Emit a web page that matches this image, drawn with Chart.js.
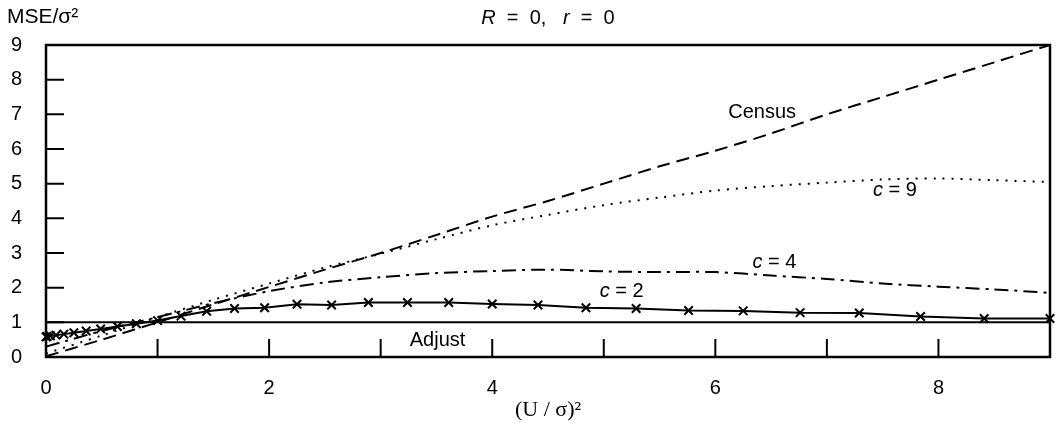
<html>
<head>
<script src="https://cdn.jsdelivr.net/npm/chart.js@4/dist/chart.umd.min.js"></script>
<style>
  body { margin: 0; background: #fff; }
</style>
</head>
<body>
<canvas id="myChart" width="1062" height="434"></canvas>
<script>
// values
const xGrid   = [0, 0.5, 1, 1.5, 2, 2.5, 3, 3.5, 4, 4.5, 5, 5.5, 6, 6.5, 7, 7.5, 8, 8.5, 9];
const census  = [0.02, 0.5, 1.0, 1.52, 2.02, 2.52, 3.0, 3.52, 4.05, 4.5, 5.0, 5.5, 5.95, 6.45, 7.0, 7.5, 8.0, 8.5, 9.0];
const c9      = [0.1, 0.62, 1.15, 1.65, 2.12, 2.58, 2.98, 3.4, 3.8, 4.1, 4.38, 4.6, 4.8, 4.93, 5.03, 5.12, 5.15, 5.1, 5.05];
const c4      = [0.3, 0.75, 1.15, 1.55, 1.9, 2.15, 2.3, 2.42, 2.48, 2.52, 2.47, 2.45, 2.45, 2.35, 2.25, 2.12, 2.03, 1.95, 1.85];
const c2X     = [0, 0.01, 0.04, 0.09, 0.16, 0.25, 0.36, 0.49, 0.64, 0.81, 1, 1.21, 1.44, 1.69, 1.96, 2.25, 2.56, 2.89, 3.24, 3.61, 4, 4.41, 4.84, 5.29, 5.76, 6.25, 6.76, 7.29, 7.84, 8.41, 9];
const c2      = [0.58, 0.59, 0.61, 0.63, 0.66, 0.7, 0.75, 0.81, 0.88, 0.96, 1.05, 1.18, 1.32, 1.4, 1.42, 1.52, 1.5, 1.57, 1.57, 1.57, 1.53, 1.5, 1.42, 1.4, 1.34, 1.33, 1.28, 1.27, 1.17, 1.11, 1.11];
const adjustX = [0, 9];
const adjust  = [1, 1];

const xTicks = [1, 2, 3, 4, 5, 6, 7, 8];
const yTicks = [1, 2, 3, 4, 5, 6, 7, 8];

// curve labels: [text, x, y]
const curveLabels = [
    ['Census', 6.42, 7.06],
    ['c = 9', 7.61, 4.81],
    ['c = 4', 6.53, 2.74],
    ['c = 2', 5.16, 1.9],
    ['Adjust', 3.51, 0.49]
];

function pts(xs, ys) {
    return xs.map((x, i) => ({x: x, y: ys[i]}));
}

const sans = "'Liberation Sans', Arial, sans-serif";
const fs = 20;

const decorate = {
    id: 'decorate',
    afterDraw(chart) {
        const ctx = chart.ctx;
        const a = chart.chartArea;
        const xs = chart.scales.x, ys = chart.scales.y;
        ctx.save();
        ctx.strokeStyle = '#000';
        ctx.lineWidth = 2.5;
        ctx.strokeRect(a.left, a.top, a.right - a.left, a.bottom - a.top);

        // inward tick marks
        ctx.lineWidth = 2;
        ctx.beginPath();
        xTicks.forEach(v => {
            const px = xs.getPixelForValue(v);
            ctx.moveTo(px, a.bottom);
            ctx.lineTo(px, a.bottom - 18);
        });
        yTicks.forEach(v => {
            const py = ys.getPixelForValue(v);
            ctx.moveTo(a.left, py);
            ctx.lineTo(a.left + 18, py);
        });
        ctx.stroke();

        ctx.fillStyle = '#000';
        ctx.textBaseline = 'middle';

        // curve labels
        const f = fs + 'px ' + sans, fi = 'italic ' + fs + 'px ' + sans;
        curveLabels.forEach(l => {
            const px = xs.getPixelForValue(l[1]);
            const py = ys.getPixelForValue(l[2]);
            if (l[0].startsWith('c')) {
                const rest = l[0].slice(1);
                ctx.font = fi;
                const w1 = ctx.measureText('c').width;
                ctx.font = f;
                const w2 = ctx.measureText(rest).width;
                const sx = px - (w1 + w2) / 2;
                ctx.textAlign = 'left';
                ctx.font = fi;
                ctx.fillText('c', sx, py);
                ctx.font = f;
                ctx.fillText(rest, sx + w1, py);
            } else {
                ctx.textAlign = 'center';
                ctx.font = f;
                ctx.fillText(l[0], px, py);
            }
        });

        // y axis label
        ctx.textAlign = 'left';
        ctx.font = '21px ' + sans;
        ctx.fillText('MSE/σ²', 7, 17);

        // title with italic R and r
        const parts = [['R', true], ['  =  0,   ', false], ['r', true], ['  =  0', false]];
        let total = 0;
        parts.forEach(p => {
            ctx.font = p[1] ? fi : f;
            total += ctx.measureText(p[0]).width;
        });
        let tx = (a.left + a.right) / 2 - total / 2;
        parts.forEach(p => {
            ctx.font = p[1] ? fi : f;
            ctx.fillText(p[0], tx, 18);
            tx += ctx.measureText(p[0]).width;
        });

        // x axis title
        ctx.textAlign = 'center';
        ctx.font = "22px 'Liberation Serif', 'Times New Roman', serif";
        ctx.fillText('(U / σ)²', (a.left + a.right) / 2, 410);
        ctx.restore();
    }
};

const ctx = document.getElementById('myChart').getContext('2d');
const myChart = new Chart(ctx, {
    type: 'line',
    data: {
        datasets: [
            {label: 'Census', data: pts(xGrid, census), borderColor: '#000', borderWidth: 2,
             borderDash: [13, 7], pointRadius: 0, tension: 0.3},
            {label: 'c = 9', data: pts(xGrid, c9), borderColor: '#000', borderWidth: 2,
             borderDash: [2, 7], pointRadius: 0, tension: 0.3},
            {label: 'c = 4', data: pts(xGrid, c4), borderColor: '#000', borderWidth: 2,
             borderDash: [14, 6, 3, 6], pointRadius: 0, tension: 0.3},
            {label: 'c = 2', data: pts(c2X, c2), borderColor: '#000', borderWidth: 2,
             pointStyle: 'crossRot', pointRadius: 6, pointBorderWidth: 2, pointBorderColor: '#000', tension: 0},
            {label: 'Adjust', data: pts(adjustX, adjust), borderColor: '#000', borderWidth: 2,
             pointRadius: 0}
        ]
    },
    options: {
        responsive: false,
        animation: false,
        clip: false,
        layout: {padding: {top: 45, right: 12, left: 0, bottom: 0}},
        plugins: {legend: {display: false}, tooltip: {enabled: false}},
        scales: {
            x: {
                type: 'linear', min: 0, max: 9,
                afterFit: s => { s.height = 77; s.paddingRight = 0; s.paddingLeft = 0; },
                grid: {display: false, drawTicks: false},
                border: {display: false},
                ticks: {
                    stepSize: 1, autoSkip: false, maxRotation: 0, padding: 19,
                    color: '#000', font: {size: 20, family: sans},
                    callback: v => (v % 2 === 0 ? v : '')
                }
            },
            y: {
                min: 0, max: 9,
                afterFit: s => { s.width = 46; s.paddingTop = 0; s.paddingBottom = 0; },
                grid: {display: false, drawTicks: false},
                border: {display: false},
                ticks: {
                    stepSize: 1, padding: 24,
                    color: '#000', font: {size: 20, family: sans}
                }
            }
        }
    },
    plugins: [decorate]
});
</script>
</body>
</html>
